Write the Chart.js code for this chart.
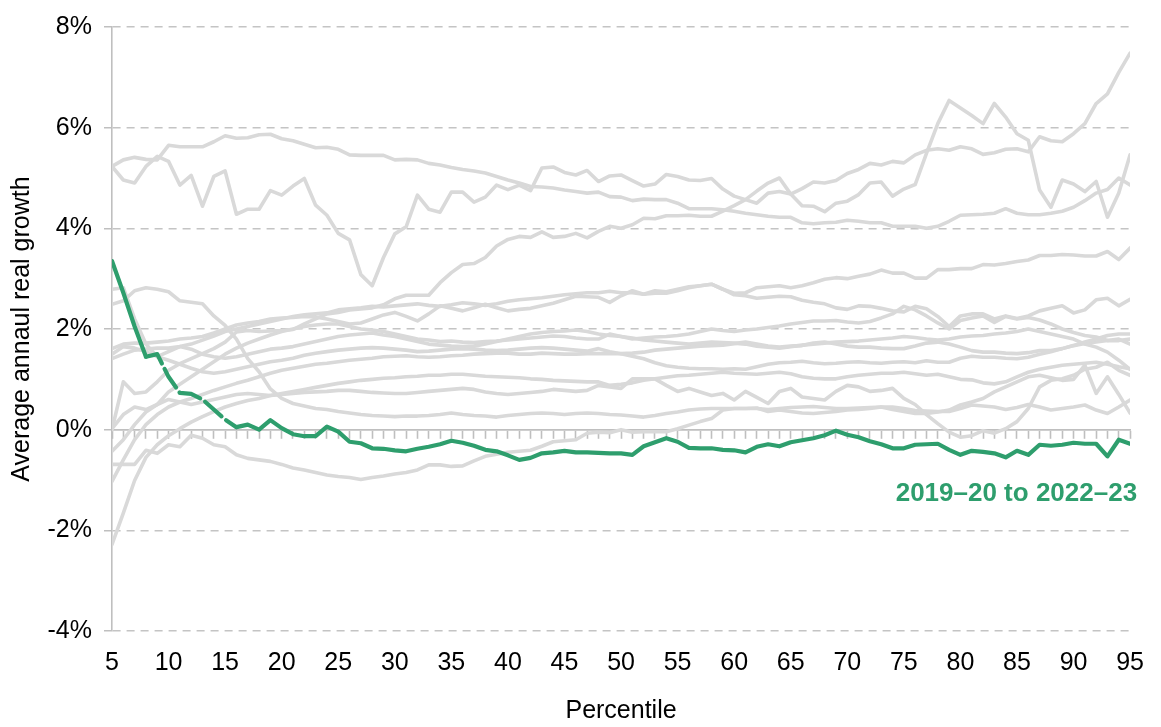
<!DOCTYPE html>
<html>
<head>
<meta charset="utf-8">
<title>Average annual real growth by percentile</title>
<script src="https://cdn.jsdelivr.net/npm/chart.js@4.4.1/dist/chart.umd.min.js"></script>
<style>
  html, body { margin: 0; padding: 0; background: #ffffff; }
  #wrap { width: 1161px; height: 727px; position: relative; }
</style>
</head>
<body>
<div id="wrap"><canvas id="chart" width="1161" height="727"></canvas></div>
<script>
// Percentiles of the income distribution (x axis)
const percentiles = [
  5, 6, 7, 8, 9, 10, 11, 12, 13, 14, 15, 16, 17, 18, 19, 20, 21, 22, 23, 24,
  25, 26, 27, 28, 29, 30, 31, 32, 33, 34, 35, 36, 37, 38, 39, 40, 41, 42, 43, 44,
  45, 46, 47, 48, 49, 50, 51, 52, 53, 54, 55, 56, 57, 58, 59, 60, 61, 62, 63, 64,
  65, 66, 67, 68, 69, 70, 71, 72, 73, 74, 75, 76, 77, 78, 79, 80, 81, 82, 83, 84,
  85, 86, 87, 88, 89, 90, 91, 92, 93, 94, 95
];

const xTickStep = 5;
const yTicks = [-4, -2, 0, 2, 4, 6, 8];

// Highlighted period
const latestLabel = '2019\u201320 to 2022\u201323';
const latestGrowth = [
  3.35, 2.72, 2.05, 1.45, 1.5, 1.05, 0.73, 0.71, 0.6, 0.4,
  0.2, 0.05, 0.1, 0.0, 0.19, 0.03, -0.09, -0.13, -0.13, 0.06,
  -0.04, -0.24, -0.27, -0.37, -0.38, -0.41, -0.43, -0.38, -0.34, -0.29,
  -0.22, -0.26, -0.32, -0.4, -0.43, -0.51, -0.6, -0.56, -0.47, -0.45,
  -0.42, -0.45, -0.45, -0.46, -0.47, -0.47, -0.5, -0.33, -0.25, -0.17,
  -0.24, -0.36, -0.37, -0.37, -0.4, -0.41, -0.45, -0.34, -0.29, -0.33,
  -0.25, -0.21, -0.17, -0.11, -0.02, -0.1, -0.15, -0.23, -0.29, -0.37,
  -0.37, -0.3, -0.29, -0.28, -0.4, -0.5, -0.42, -0.44, -0.47, -0.55,
  -0.42, -0.5, -0.3, -0.32, -0.3, -0.26, -0.28, -0.28, -0.53, -0.2,
  -0.28
];

// Earlier periods (drawn in grey)
const periodA = [
  5.23, 5.36, 5.41, 5.37, 5.36, 5.65, 5.62, 5.62, 5.62, 5.72,
  5.84, 5.79, 5.8, 5.86, 5.87, 5.78, 5.74, 5.67, 5.6, 5.61,
  5.57, 5.46, 5.45, 5.45, 5.45, 5.36, 5.37, 5.36, 5.29, 5.26,
  5.21, 5.17, 5.14, 5.1, 5.03, 4.96, 4.9, 4.83, 4.82, 4.8,
  4.76, 4.73, 4.7, 4.72, 4.63, 4.62, 4.55, 4.58, 4.57, 4.57,
  4.5, 4.39, 4.39, 4.39, 4.37, 4.34, 4.3, 4.27, 4.24, 4.22,
  4.22, 4.11, 4.09, 4.11, 4.12, 4.16, 4.14, 4.11, 4.11, 4.04,
  4.04, 4.04, 4.0, 4.04, 4.14, 4.26, 4.27, 4.28, 4.3, 4.39,
  4.3, 4.27, 4.27, 4.3, 4.34, 4.42, 4.55, 4.7, 4.77, 5.0,
  4.86
];
const periodB = [
  5.23, 4.96, 4.9, 5.23, 5.43, 5.33, 4.86, 5.05, 4.44, 5.03,
  5.14, 4.28, 4.38, 4.38, 4.75, 4.66, 4.84, 4.99, 4.46, 4.26,
  3.9, 3.77, 3.08, 2.86, 3.42, 3.89, 4.03, 4.66, 4.38, 4.32,
  4.72, 4.72, 4.52, 4.62, 4.86, 4.77, 4.86, 4.75, 5.2, 5.22,
  5.11, 5.06, 5.15, 4.93, 5.04, 5.06, 4.95, 4.84, 4.88, 5.07,
  5.03, 4.96, 4.95, 4.99, 4.78, 4.64, 4.57, 4.5, 4.7, 4.73,
  4.68, 4.79, 4.92, 4.9, 4.95, 5.09, 5.17, 5.29, 5.26, 5.33,
  5.3, 5.46, 5.55, 5.58, 5.55, 5.62, 5.58, 5.47, 5.5, 5.57,
  5.58, 5.52, 5.82, 5.74, 5.72, 5.88, 6.08, 6.48, 6.67, 7.1,
  7.48
];
const periodC = [
  0.0, 0.95, 0.72, 0.75, 0.95, 1.18, 1.31, 1.41, 1.51, 1.61,
  1.74, 1.94, 1.97, 1.95, 1.96, 1.97, 1.99, 2.1, 2.2, 2.3,
  2.33, 2.38, 2.4, 2.42, 2.48, 2.6, 2.67, 2.67, 2.67, 2.92,
  3.12, 3.28, 3.3, 3.42, 3.65, 3.78, 3.84, 3.82, 3.93, 3.82,
  3.84, 3.9, 3.81, 3.94, 4.04, 4.0, 4.07, 4.2, 4.19, 4.25,
  4.25, 4.26, 4.24, 4.24, 4.34, 4.45, 4.57, 4.74, 4.9, 5.0,
  4.68, 4.45, 4.44, 4.33, 4.5, 4.54, 4.67, 4.9, 4.92, 4.64,
  4.78, 4.87, 5.49, 6.08, 6.54, 6.39, 6.24, 6.08, 6.48, 6.21,
  5.88, 5.75, 4.76, 4.42, 4.96, 4.88, 4.73, 4.93, 4.22, 4.7,
  5.46
];
const periodD = [
  1.61, 1.7, 1.72, 1.72, 1.74, 1.76, 1.8, 1.82, 1.85, 1.92,
  2.0, 2.08, 2.12, 2.15, 2.2, 2.22, 2.23, 2.25, 2.24, 2.2,
  2.15, 2.1, 2.12, 2.2, 2.28, 2.33, 2.25, 2.16, 2.3, 2.46,
  2.41, 2.36, 2.42, 2.49, 2.42, 2.36, 2.39, 2.41, 2.46, 2.51,
  2.58, 2.65, 2.64, 2.63, 2.53, 2.66, 2.76, 2.69, 2.76, 2.74,
  2.79, 2.84, 2.86, 2.89, 2.79, 2.71, 2.72, 2.82, 2.84, 2.86,
  2.82, 2.86, 2.92, 2.99, 3.02, 3.0, 3.05, 3.09, 3.17, 3.11,
  3.11, 3.01, 3.01, 3.18, 3.18, 3.2, 3.2, 3.28, 3.27, 3.3,
  3.34, 3.37, 3.46, 3.46, 3.48, 3.47, 3.45, 3.45, 3.54, 3.38,
  3.61
];
const periodE = [
  1.41, 1.5, 1.58, 1.6, 1.62, 1.62, 1.65, 1.7, 1.78, 1.86,
  1.95, 2.0, 2.05, 2.1, 2.15, 2.2, 2.25, 2.28, 2.3, 2.32,
  2.38, 2.4, 2.42, 2.45, 2.44, 2.46, 2.48, 2.5, 2.47, 2.45,
  2.48, 2.52, 2.5, 2.47, 2.5, 2.55, 2.58, 2.6, 2.62, 2.65,
  2.68, 2.7, 2.72, 2.72, 2.75, 2.72, 2.72, 2.69, 2.71, 2.71,
  2.76, 2.82, 2.86, 2.89, 2.79, 2.68, 2.66, 2.61, 2.63, 2.65,
  2.64, 2.57, 2.53, 2.5, 2.42, 2.39, 2.46, 2.45, 2.41, 2.36,
  2.34, 2.45, 2.4, 2.25, 2.05, 2.26, 2.3, 2.3, 2.2, 2.26,
  2.21, 2.26, 2.36, 2.41, 2.46, 2.32, 2.38, 2.58, 2.61, 2.46,
  2.59
];
const periodF = [
  -0.43, -0.2, 0.1, 0.35, 0.5, 0.75, 0.9, 1.05, 1.2, 1.35,
  1.5, 1.62, 1.72, 1.8, 1.88, 1.95, 2.0, 2.05, 2.08, 2.1,
  2.1, 2.05, 2.0, 1.98, 1.95, 1.9, 1.85, 1.8, 1.78, 1.75,
  1.76, 1.74, 1.73, 1.75, 1.76, 1.78, 1.8, 1.82, 1.84, 1.86,
  1.85, 1.82, 1.8, 1.8, 1.9, 1.85, 1.8, 1.82, 1.84, 1.85,
  1.87, 1.9, 1.95, 2.0, 1.97, 1.95, 1.98, 2.0, 2.03, 2.06,
  2.1, 2.13, 2.16, 2.16, 2.17, 2.14, 2.12, 2.15, 2.22, 2.3,
  2.45, 2.38, 2.26, 2.12, 2.0, 2.17, 2.22, 2.26, 2.13, 2.25,
  2.2, 2.23, 2.18, 2.1, 2.0, 1.93, 1.87, 1.84, 1.77, 1.77,
  1.8
];
const periodG = [
  2.79, 2.82, 2.2, 1.7, 1.45, 1.55, 1.65, 1.6, 1.5, 1.45,
  1.42, 1.45, 1.5, 1.55, 1.6, 1.62, 1.65, 1.7, 1.75, 1.8,
  1.85, 1.88, 1.9, 1.92, 1.88, 1.85, 1.8, 1.75, 1.7, 1.68,
  1.66, 1.65, 1.66, 1.7, 1.75, 1.8, 1.85, 1.9, 1.93, 1.95,
  1.96, 1.98, 1.95, 1.9, 1.87, 1.85, 1.82, 1.78, 1.76, 1.74,
  1.72, 1.7, 1.72, 1.74, 1.73, 1.72, 1.7, 1.66, 1.64, 1.62,
  1.65, 1.68, 1.7, 1.72, 1.74, 1.75, 1.76, 1.78, 1.8, 1.82,
  1.85, 1.83, 1.8, 1.78, 1.8, 1.84, 1.86, 1.87, 1.9, 1.92,
  1.95, 2.0, 1.95, 1.9, 1.85, 1.8, 1.7, 1.64, 1.54, 1.38,
  1.2
];
const periodH = [
  1.5, 1.65, 1.62, 1.55, 1.45, 1.38, 1.3, 1.22, 1.15, 1.12,
  1.15, 1.2, 1.25, 1.3, 1.35, 1.38, 1.42, 1.48, 1.52, 1.55,
  1.58, 1.6, 1.62, 1.63, 1.62, 1.6, 1.58, 1.55, 1.56, 1.58,
  1.6, 1.61, 1.6, 1.58, 1.57, 1.58, 1.6, 1.62, 1.63, 1.62,
  1.6, 1.58, 1.56, 1.61, 1.55, 1.51, 1.52, 1.54, 1.58, 1.6,
  1.62, 1.64, 1.66, 1.67, 1.68, 1.71, 1.74, 1.7, 1.66, 1.64,
  1.66, 1.67, 1.72, 1.74, 1.7, 1.66, 1.64, 1.64, 1.62, 1.61,
  1.61, 1.66, 1.72, 1.74, 1.7, 1.64, 1.57, 1.54, 1.54, 1.52,
  1.51, 1.53, 1.57, 1.57, 1.61, 1.67, 1.74, 1.8, 1.87, 1.9,
  1.9
];
const periodI = [
  -1.03, -0.6, -0.2, 0.1, 0.3, 0.45, 0.55, 0.62, 0.7, 0.78,
  0.85, 0.92, 0.98, 1.05, 1.12, 1.18, 1.22, 1.26, 1.3, 1.32,
  1.35, 1.38, 1.4, 1.42, 1.45, 1.46, 1.47, 1.45, 1.44, 1.45,
  1.47, 1.48, 1.5, 1.51, 1.52, 1.52, 1.5, 1.5, 1.52, 1.51,
  1.5, 1.5, 1.51, 1.51, 1.51, 1.51, 1.46, 1.41, 1.33, 1.27,
  1.24, 1.22, 1.21, 1.21, 1.2, 1.21, 1.2, 1.25, 1.3, 1.33,
  1.34, 1.36, 1.33, 1.31, 1.32, 1.34, 1.35, 1.33, 1.32, 1.34,
  1.35, 1.33, 1.37, 1.34, 1.34, 1.42, 1.46, 1.44, 1.44, 1.42,
  1.41, 1.44, 1.5, 1.55, 1.61, 1.67, 1.71, 1.74, 1.77, 1.8,
  1.7
];
const periodJ = [
  -2.28, -1.66, -1.01, -0.55, -0.3, -0.12, 0.02, 0.15, 0.26, 0.36,
  0.45, 0.52, 0.58, 0.62, 0.68, 0.72, 0.76, 0.8, 0.84, 0.88,
  0.92, 0.95, 0.98, 1.0, 1.02, 1.03, 1.05, 1.06, 1.08, 1.08,
  1.1, 1.1, 1.08, 1.06, 1.05, 1.04, 1.03, 1.01, 1.0, 0.98,
  0.97, 0.96, 0.95, 0.95, 0.88, 0.9, 0.93, 0.98, 1.01, 1.04,
  1.07, 1.08, 1.1, 1.12, 1.14, 1.12, 1.11, 1.1, 1.12, 1.14,
  1.11, 1.05, 1.02, 1.01, 1.01, 1.05, 1.08, 1.1, 1.12, 1.12,
  1.14, 1.11, 1.08, 1.1, 1.05, 1.0, 0.99, 0.93, 0.91, 0.95,
  1.05, 1.14, 1.2, 1.24, 1.28, 1.3, 1.32, 1.34, 1.3, 1.25,
  1.21
];
const periodK = [
  0.02, 0.3, 0.45, 0.4, 0.5, 0.6, 0.55, 0.5, 0.55, 0.6,
  0.65, 0.7, 0.72, 0.7, 0.68, 0.7, 0.72, 0.74, 0.75, 0.76,
  0.78, 0.78, 0.76, 0.74, 0.73, 0.72, 0.72, 0.74, 0.76, 0.78,
  0.8, 0.82, 0.8, 0.75, 0.72, 0.7, 0.72, 0.74, 0.76, 0.8,
  0.78, 0.76, 0.78, 0.88, 0.85, 0.82, 1.01, 1.01, 1.01, 0.88,
  0.76, 0.82, 0.75, 0.68, 0.72, 0.59, 0.76, 0.64, 0.52, 0.76,
  0.82, 0.65, 0.62, 0.59, 0.76, 0.88, 0.85, 0.76, 0.78, 0.82,
  0.62, 0.5, 0.3, 0.12, -0.05, -0.15, -0.12, -0.02, -0.07, 0.02,
  0.16, 0.42, 0.85, 0.98, 1.01, 1.08, 1.2, 1.24, 1.34, 1.18,
  1.08
];
const periodL = [
  2.49, 2.56, 2.76, 2.82, 2.79, 2.74, 2.56, 2.53, 2.5, 2.26,
  2.07, 1.8, 1.41, 1.15, 0.81, 0.62, 0.52, 0.47, 0.42, 0.4,
  0.36, 0.33, 0.3, 0.28, 0.27, 0.26, 0.27, 0.27, 0.28, 0.3,
  0.33, 0.3, 0.28, 0.27, 0.25, 0.28, 0.3, 0.32, 0.33, 0.32,
  0.3, 0.32, 0.33, 0.32, 0.3, 0.29, 0.27, 0.25, 0.28, 0.32,
  0.35, 0.39, 0.41, 0.42, 0.42, 0.42, 0.42, 0.43, 0.36, 0.39,
  0.36, 0.33, 0.32, 0.34, 0.36, 0.39, 0.4, 0.42, 0.45, 0.4,
  0.36, 0.32, 0.32, 0.35, 0.39, 0.49, 0.55, 0.62, 0.75, 0.85,
  0.95, 1.05, 1.08, 1.03, 0.98, 1.0, 1.28, 0.72, 1.05, 0.7,
  0.33
];
const periodM = [
  -0.69, -0.69, -0.69, -0.41, -0.47, -0.3, -0.34, -0.11, -0.17, -0.3,
  -0.34, -0.5, -0.57, -0.6, -0.63, -0.69, -0.76, -0.8, -0.85, -0.9,
  -0.93, -0.95, -0.99, -0.95, -0.92, -0.88, -0.85, -0.8, -0.7, -0.7,
  -0.73, -0.72, -0.62, -0.53, -0.49, -0.45, -0.43, -0.41, -0.33, -0.24,
  -0.22, -0.2, -0.07, -0.05, -0.06, 0.0, -0.05, -0.04, -0.04, -0.04,
  0.02, 0.09, 0.16, 0.22, 0.39, 0.42, 0.42, 0.42, 0.4, 0.42,
  0.44, 0.45, 0.46, 0.44, 0.42, 0.42, 0.43, 0.44, 0.45, 0.45,
  0.42, 0.38, 0.37, 0.36, 0.36, 0.42, 0.49, 0.47, 0.45, 0.4,
  0.44, 0.5, 0.45, 0.39, 0.42, 0.45, 0.49, 0.39, 0.32, 0.45,
  0.59
];

const earlierPeriods = [periodA, periodB, periodC, periodD, periodE, periodF, periodG,
                        periodH, periodI, periodJ, periodK, periodL, periodM];

const GREEN = '#2e9e6d';
const GREY_LINE = '#d9d9d9';
const AXIS_GREY = '#bfbfbf';
const FONT = '"Liberation Sans", Arial, Helvetica, sans-serif';

const toPoints = vals => percentiles.map((p, i) => ({ x: p, y: vals[i] }));

// Writes the period name under the highlighted line, right-aligned to the last percentile
const periodLabel = {
  id: 'periodLabel',
  afterDatasetsDraw(chart) {
    const { ctx, scales } = chart;
    const x = scales.x.getPixelForValue(percentiles[percentiles.length - 1]) + 7;
    const y = scales.y.getPixelForValue(-1.27);
    ctx.save();
    ctx.font = 'bold 26px ' + FONT;
    ctx.fillStyle = GREEN;
    ctx.textAlign = 'right';
    ctx.textBaseline = 'middle';
    ctx.fillText(latestLabel, x, y);
    ctx.restore();
  }
};

Chart.defaults.font.family = FONT;
Chart.defaults.color = '#000000';

const datasets = [
  {
    label: latestLabel,
    data: toPoints(latestGrowth),
    borderColor: GREEN,
    borderWidth: 4.2,
    segment: {
      borderDash: c => (c.p0.parsed.x >= 8 && c.p1.parsed.x <= 16) ? [22, 6] : undefined
    }
  },
  ...earlierPeriods.map((vals, i) => ({
    label: 'period ' + (i + 1),
    data: toPoints(vals),
    borderColor: GREY_LINE,
    borderWidth: 3.6
  }))
];

new Chart(document.getElementById('chart'), {
  type: 'line',
  data: { datasets },
  options: {
    responsive: false,
    devicePixelRatio: 1,
    animation: false,
    layout: { padding: { top: 23, right: 24, bottom: 0, left: 0 } },
    elements: {
      point: { radius: 0, hoverRadius: 0 },
      line: { tension: 0, borderJoinStyle: 'round', borderCapStyle: 'round', fill: false }
    },
    plugins: { legend: { display: false }, tooltip: { enabled: false } },
    scales: {
      // axis line through zero with a tick for every percentile
      x: {
        type: 'linear',
        min: 5,
        max: 95,
        position: { y: 0 },
        ticks: { display: false, stepSize: 1 },
        grid: { drawOnChartArea: false, drawTicks: true, tickLength: 8, tickColor: AXIS_GREY, tickWidth: 1.6 },
        border: { display: true, color: AXIS_GREY, width: 1.8 }
      },
      // percentile labels along the bottom
      xLabels: {
        type: 'linear',
        axis: 'x',
        min: 5,
        max: 95,
        position: 'bottom',
        ticks: {
          stepSize: xTickStep,
          autoSkip: false,
          maxRotation: 0,
          padding: 17,
          font: { size: 25 },
          color: '#000000'
        },
        grid: { display: false, drawTicks: false },
        border: { display: false },
        title: {
          display: true,
          text: 'Percentile',
          font: { size: 25 },
          color: '#000000',
          padding: { top: 0, bottom: 1 }
        },
        afterFit: s => { s.height = 96; }
      },
      y: {
        type: 'linear',
        min: yTicks[0],
        max: yTicks[yTicks.length - 1],
        afterBuildTicks: s => { s.ticks = yTicks.map(v => ({ value: v })); },
        ticks: {
          callback: v => v + '%',
          padding: 12,
          font: { size: 25 },
          color: '#000000'
        },
        grid: {
          color: c => (c.tick && c.tick.value === 0) ? 'rgba(0,0,0,0)' : '#c4c4c4',
          lineWidth: 1.5,
          drawTicks: true,
          tickLength: 8,
          tickColor: AXIS_GREY,
          tickWidth: 1.5
        },
        border: { display: true, color: AXIS_GREY, width: 1.6, dash: [8, 6] },
        title: {
          display: true,
          text: 'Average annaul real growth',
          font: { size: 25 },
          color: '#000000',
          padding: { top: 7, bottom: 0 }
        },
        afterFit: s => { s.width = 112; }
      }
    }
  },
  plugins: [periodLabel]
});
</script>
</body>
</html>
